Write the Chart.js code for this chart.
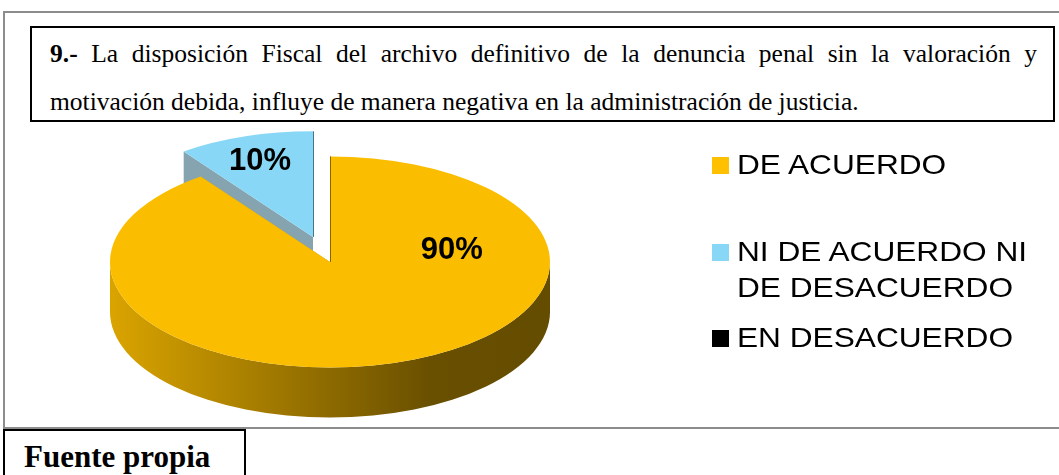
<!DOCTYPE html>
<html>
<head>
<meta charset="utf-8">
<script src="https://cdn.jsdelivr.net/npm/chart.js@4.4.1/dist/chart.umd.min.js"></script>
<style>
  html, body { margin: 0; padding: 0; background: #fff; }
  body { width: 1059px; height: 475px; overflow: hidden; position: relative; }
  #frame { position: absolute; left: 3px; top: 11px; width: 1080px; height: 418px; border: 2px solid #8c8c8c; box-sizing: border-box; }
  #title { position: absolute; left: 30px; top: 26px; width: 1025px; height: 96px; box-sizing: border-box; border: 2px solid #000;
    padding: 2px 16px 0 18px; font-family: "Liberation Serif", "Times New Roman", serif; font-size: 25.5px; line-height: 48px;
    text-align: justify; text-align-last: left; background: #fff; overflow: visible; }
  #source { position: absolute; left: 3px; top: 429px; width: 243px; height: 70px; box-sizing: border-box; border: 2px solid #000;
    padding: 8px 0 0 19px; font-family: "Liberation Serif", "Times New Roman", serif; font-weight: bold; font-size: 31px; line-height: 36px; background: #fff; }
  #wrap { position: absolute; left: 0; top: 0; width: 1059px; height: 475px; }
  .item { position: absolute; left: 712px; font-family: "Liberation Sans", Arial, sans-serif; font-size: 28px; line-height: 36px; color: #000; }
  .item .box { position: absolute; left: 0; top: 10px; width: 17px; height: 17px; }
  .item .txt { position: absolute; left: 25px; top: 0; width: 280px; transform: scaleX(1.13); transform-origin: left top; white-space: normal; }
</style>
</head>
<body>
<div id="frame"></div>
<div id="wrap"><canvas id="pie"></canvas></div>
<div id="title"><b>9.-</b> La disposición Fiscal del archivo definitivo de la denuncia penal sin la valoración y motivación debida, influye de manera negativa en la administración de justicia.</div>
<div id="legend"></div>
<div id="source">Fuente propia</div>
<script>
// datos
const categorias = ['DE ACUERDO', 'NI DE ACUERDO NI DE DESACUERDO', 'EN DESACUERDO'];
const porcentajes = [90, 10, 0];
const colores = ['#fabd00', '#89d7f6', '#000000'];
const coloresLeyenda = ['#ffc000', '#89d7f6', '#000000'];

function rgb(hex) { const n = parseInt(hex.slice(1), 16); return [(n >> 16) & 255, (n >> 8) & 255, n & 255]; }
function shade(hex, f) { const c = rgb(hex).map(v => Math.round(v * f)); return `rgb(${c[0]},${c[1]},${c[2]})`; }
function cutColor(hex) {
  const c = rgb(hex);
  const g = 0.3 * c[0] + 0.59 * c[1] + 0.11 * c[2];
  const m = c.map(v => Math.round((v + g) / 2 * 0.8));
  return `rgb(${m[0]},${m[1]},${m[2]})`;
}

// pastel 3D: se usan los arcos calculados por Chart.js y se aplanan en vertical
const pie3d = {
  id: 'pie3d',
  beforeDatasetsDraw(chart, args, o) {
    const ctx = chart.ctx;
    const arcs = chart.getDatasetMeta(0).data;
    const k = o.tilt, h = o.depth;
    const mid = a => (a.startAngle + a.endAngle) / 2;
    const order = arcs.map((a, i) => i).filter(i => arcs[i].circumference > 0)
      .sort((a, b) => Math.sin(mid(arcs[a])) - Math.sin(mid(arcs[b])));
    ctx.save();
    order.forEach(i => {
      const a = arcs[i];
      const off = a.options.offset || 0;
      const m = mid(a);
      const cx = a.x + Math.cos(m) * off;
      const cy = o.centerY + Math.sin(m) * off * k;
      const r = a.outerRadius;
      const col = a.options.backgroundColor;
      // caras de corte
      ctx.fillStyle = cutColor(col);
      [a.startAngle, a.endAngle].forEach(t => {
        const px = cx + r * Math.cos(t), py = cy + r * k * Math.sin(t);
        ctx.beginPath();
        ctx.moveTo(cx, cy); ctx.lineTo(px, py); ctx.lineTo(px, py + h); ctx.lineTo(cx, cy + h);
        ctx.closePath(); ctx.fill();
      });
      // pared exterior
      const g = ctx.createLinearGradient(cx - r, 0, cx + r, 0);
      g.addColorStop(0, shade(col, 0.87));
      g.addColorStop(0.73, shade(col, 0.42));
      g.addColorStop(1, shade(col, 0.4));
      ctx.fillStyle = g;
      for (let base = -2 * Math.PI; base <= 2 * Math.PI; base += 2 * Math.PI) {
        const s = Math.max(a.startAngle, base), e = Math.min(a.endAngle, base + Math.PI);
        if (e <= s) continue;
        ctx.beginPath();
        ctx.ellipse(cx, cy, r, r * k, 0, s, e);
        ctx.ellipse(cx, cy + h, r, r * k, 0, e, s, true);
        ctx.closePath(); ctx.fill();
      }
      // cara superior
      ctx.fillStyle = col;
      ctx.beginPath();
      ctx.moveTo(cx, cy);
      ctx.ellipse(cx, cy, r, r * k, 0, a.startAngle, a.endAngle);
      ctx.closePath(); ctx.fill();
      // arista del corte vertical
      ctx.strokeStyle = shade(col, 0.55);
      ctx.lineWidth = 1;
      [a.startAngle, a.endAngle].forEach(t => {
        if (Math.abs(Math.cos(t)) > 0.02) return;
        ctx.beginPath();
        ctx.moveTo(cx + 0.5, cy);
        ctx.lineTo(cx + 0.5, cy + r * k * Math.sin(t));
        ctx.stroke();
      });
    });
    ctx.restore();
    return false;
  },
  afterDraw(chart, args, o) {
    const ctx = chart.ctx;
    const arcs = chart.getDatasetMeta(0).data;
    const vals = chart.data.datasets[0].data;
    const total = vals.reduce((s, v) => s + v, 0);
    ctx.save();
    ctx.font = o.font;
    ctx.fillStyle = '#000';
    ctx.textAlign = 'center';
    ctx.textBaseline = 'alphabetic';
    arcs.forEach((a, i) => {
      if (!vals[i]) return;
      const p = o.labelPlacement[i] || {};
      const off = a.options.offset || 0;
      const m = (a.startAngle + a.endAngle) / 2;
      const t = p.angle != null ? (p.angle - 90) * Math.PI / 180 : m;
      const d = a.outerRadius * (p.r != null ? p.r : 0.6);
      const x = a.x + Math.cos(m) * off + Math.cos(t) * d;
      const y = o.centerY + (Math.sin(m) * off + Math.sin(t) * d) * o.tilt;
      ctx.fillText(Math.round(vals[i] / total * 100) + '%', x, y + o.fontSize * 0.36);
    });
    ctx.restore();
  }
};

new Chart(document.getElementById('pie'), {
  type: 'pie',
  data: {
    labels: categorias,
    datasets: [{ data: porcentajes, backgroundColor: colores, offset: [0, 55, 0], borderWidth: 0, radius: 220 }]
  },
  options: {
    responsive: true, maintainAspectRatio: false, animation: false, events: [],
    layout: { padding: { left: 100, right: 499, top: 0, bottom: 0 } },
    plugins: {
      legend: { display: false },
      tooltip: { enabled: false },
      pie3d: {
        centerY: 262, tilt: 0.48, depth: 50,
        font: 'bold 31px "Liberation Sans", Arial, sans-serif', fontSize: 31,
        labelPlacement: [{ angle: 76, r: 0.57 }, { r: 0.78 }]
      }
    }
  },
  plugins: [pie3d]
});

// leyenda
const legendTops = [147, 234, 320];
const leyenda = document.getElementById('legend');
categorias.forEach((c, i) => {
  const it = document.createElement('div');
  it.className = 'item';
  it.style.top = legendTops[i] + 'px';
  it.innerHTML = `<span class="box" style="background:${coloresLeyenda[i]}"></span><span class="txt">${c}</span>`;
  leyenda.appendChild(it);
});
</script>
</body>
</html>
